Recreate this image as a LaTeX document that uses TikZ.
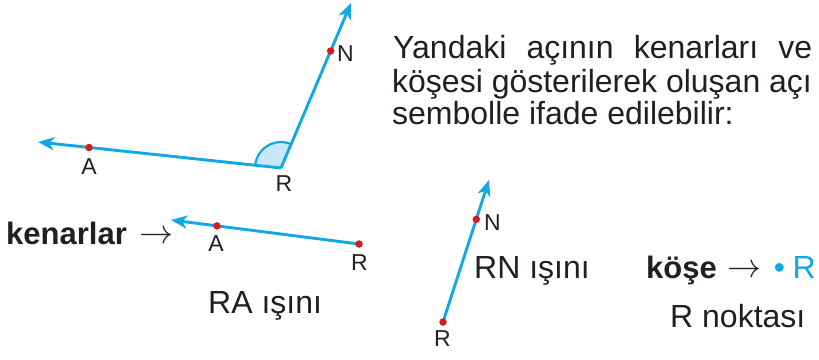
\documentclass[tikz,border=0pt]{standalone}
\usepackage{fontspec}
\setmainfont{Liberation Sans}
\usetikzlibrary{arrows.meta}
\definecolor{raycol}{HTML}{12A8E3}
\definecolor{dotcol}{HTML}{D71920}
\definecolor{txt}{HTML}{231F20}
\definecolor{anglefillcol}{HTML}{C6E8F8}
\begin{document}
\begin{tikzpicture}[x=1pt,y=-1pt,
  ray/.style={draw=raycol, line width=2.9pt, -{Stealth[length=16pt,width=13pt,inset=4.5pt]}},
  reddot/.style={circle, fill=dotcol, inner sep=0pt, minimum size=7.5pt},
  lbl/.style={font=\fontsize{23}{23}\selectfont, text=txt, anchor=base, inner sep=0pt},
  big/.style={font=\fontsize{32}{32}\selectfont, text=txt, anchor=base west, inner sep=0pt},
  bigb/.style={font=\fontsize{31}{31}\selectfont\bfseries, text=txt, anchor=base west, inner sep=0pt},
  arr/.style={text=txt, anchor=base west, inner sep=0pt},
]
\useasboundingbox (0,0) rectangle (819,359);

% ---- top angle ----
\coordinate (R) at (281,168);
\coordinate (tipN) at (351,3);
\coordinate (tipA) at (38,142);
\fill[anglefillcol] (R) -- ++(-174:26) arc[start angle=-174, end angle=-67, radius=26] -- cycle;
\draw[raycol, line width=2.2pt] (R) ++(-174:26) arc[start angle=-174, end angle=-67, radius=26];
\draw[ray] (R) -- (tipN);
\draw[ray] (R) -- (tipA);
\node[reddot] (N) at (330.6,51) {};
\node[reddot] (A) at (89,147.5) {};
\node[lbl] (labA) at (89,174) {A};
\node[lbl] (labR) at (284,191) {R};
\node[lbl] (labN) at (345.5,61.5) {N};

% ---- text block ----
\node[big] (line1) at (393,58) {\makebox[419pt][s]{Yandaki\hfill açının\hfill kenarları\hfill ve}};
\node[big] (line2) at (392,92) {köşesi gösterilerek oluşan açı};
\node[big] (line3) at (392,124.5) {sembolle ifade edilebilir:};

% ---- RA ray ----
\coordinate (R2) at (359,244);
\coordinate (tipA2) at (171,220);
\draw[ray] (R2) -- (tipA2);
\node[reddot] (A2) at (217,225.9) {};
\node[reddot] (R2dot) at (R2) {};
\node[lbl] (labA2) at (216,251.5) {A};
\node[lbl] (labR2) at (359.5,270) {R};
\node[bigb] (kenarlar) at (6,244) {kenarlar};
\node[arr] (karrow) at (139.5,243) {\resizebox{34pt}{!}{$\rightarrow$}};
\node[big] (RAisini) at (208,313) {RA ışını};

% ---- RN ray ----
\coordinate (R3) at (443,322);
\coordinate (tipN3) at (489,180);
\draw[ray] (R3) -- (tipN3);
\node[reddot] (N3) at (476.3,219.3) {};
\node[reddot] (R3dot) at (R3) {};
\node[lbl] (labN3) at (492.5,230) {N};
\node[lbl] (labR3) at (442.5,346.5) {R};
\node[big] (RNisini) at (474,278) {RN ışını};

% ---- vertex ----
\node[bigb] (kose) at (646,278) {köşe};
\node[arr] (varrow) at (727.5,277) {\resizebox{34pt}{!}{$\rightarrow$}};
\node[font=\fontsize{32}{32}\selectfont, anchor=base, inner sep=0pt, text=raycol] (bullet) at (779.5,278.5) {•};
\node[big, text=raycol] (Rcyan) at (792.5,278) {R};
\node[big] (noktasi) at (670,327) {R noktası};
\end{tikzpicture}
\end{document}
